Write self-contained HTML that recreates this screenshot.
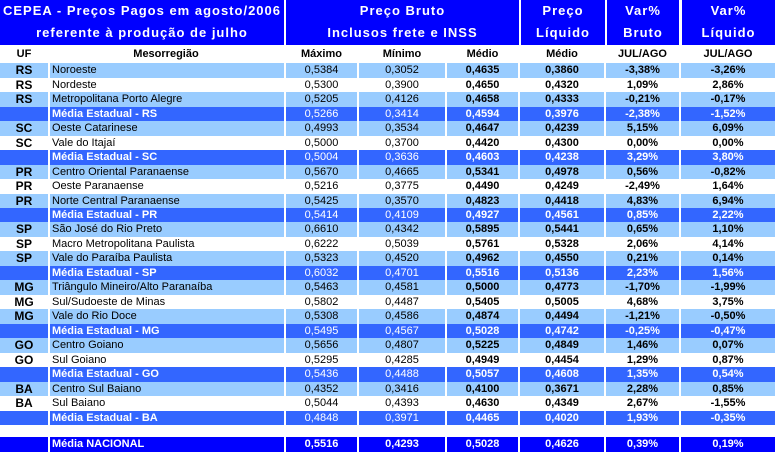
<!DOCTYPE html>
<html><head><meta charset="utf-8"><style>
html,body{margin:0;padding:0;background:#fff;width:775px;height:452px;overflow:hidden;position:relative}
body{font-family:"Liberation Sans",Arial,sans-serif;font-size:11px;color:#000}
.row{position:absolute;left:0;width:775px;height:14.47px}
.row>div{position:absolute;top:0;height:100%;text-align:center;white-space:nowrap;overflow:hidden;line-height:15px}
.row>div:nth-child(1){left:0;width:48px}
.row>div:nth-child(2){left:50px;width:232px;text-align:left;padding-left:2px}
.row>div:nth-child(3){left:286px;width:71px}
.row>div:nth-child(4){left:359px;width:86px}
.row>div:nth-child(5){left:447px;width:71px}
.row>div:nth-child(6){left:520px;width:84px}
.row>div:nth-child(7){left:606px;width:73px}
.row>div:nth-child(8){left:681px;width:94px}
.r>div:nth-child(1){font-weight:bold;font-size:12px}
.r>div:nth-child(n+5){font-weight:bold}
.l>div{background:#99ccff}
.m>div{background:#3366ff;color:#fff}
.m>div:nth-child(2){font-weight:bold}
.n>div{background:#0000ff;color:#fff;font-weight:bold}
.c{height:17px}
.c>div{font-weight:bold;line-height:17px}
.c>div:nth-child(2){text-align:center;padding-left:0}
.h{position:absolute;background:#0000ff;color:#fff;font-weight:bold;font-size:13px;letter-spacing:1px;text-align:center;white-space:nowrap}
</style></head><body>
<div class="h" style="left:0;top:0;width:284px;height:45px;line-height:22px">CEPEA - Preços Pagos em agosto/2006<br>referente à produção de julho</div>
<div class="h" style="left:286px;top:0;width:233px;height:45px;line-height:22px">Preço Bruto<br>Inclusos frete e INSS</div>
<div class="h" style="left:521px;top:0;width:84px;height:45px;line-height:22px">Preço<br>Líquido</div>
<div class="h" style="left:607px;top:0;width:72px;height:45px;line-height:22px">Var%<br>Bruto</div>
<div class="h" style="left:682px;top:0;width:93px;height:45px;line-height:22px">Var%<br>Líquido</div>
<div class="row c" style="top:46px"><div>UF</div><div>Mesorregião</div><div>Máximo</div><div>Mínimo</div><div>Médio</div><div>Médio</div><div>JUL/AGO</div><div>JUL/AGO</div></div>
<div class="row r l" style="top:63.3px"><div>RS</div><div>Noroeste</div><div>0,5384</div><div>0,3052</div><div>0,4635</div><div>0,3860</div><div>-3,38%</div><div>-3,26%</div></div>
<div class="row r" style="top:77.77px"><div>RS</div><div>Nordeste</div><div>0,5300</div><div>0,3900</div><div>0,4650</div><div>0,4320</div><div>1,09%</div><div>2,86%</div></div>
<div class="row r l" style="top:92.24px"><div>RS</div><div>Metropolitana Porto Alegre</div><div>0,5205</div><div>0,4126</div><div>0,4658</div><div>0,4333</div><div>-0,21%</div><div>-0,17%</div></div>
<div class="row r m" style="top:106.71px"><div></div><div>Média Estadual - RS</div><div>0,5266</div><div>0,3414</div><div>0,4594</div><div>0,3976</div><div>-2,38%</div><div>-1,52%</div></div>
<div class="row r l" style="top:121.18px"><div>SC</div><div>Oeste Catarinese</div><div>0,4993</div><div>0,3534</div><div>0,4647</div><div>0,4239</div><div>5,15%</div><div>6,09%</div></div>
<div class="row r" style="top:135.65px"><div>SC</div><div>Vale do Itajaí</div><div>0,5000</div><div>0,3700</div><div>0,4420</div><div>0,4300</div><div>0,00%</div><div>0,00%</div></div>
<div class="row r m" style="top:150.12px"><div></div><div>Média Estadual - SC</div><div>0,5004</div><div>0,3636</div><div>0,4603</div><div>0,4238</div><div>3,29%</div><div>3,80%</div></div>
<div class="row r l" style="top:164.59px"><div>PR</div><div>Centro Oriental Paranaense</div><div>0,5670</div><div>0,4665</div><div>0,5341</div><div>0,4978</div><div>0,56%</div><div>-0,82%</div></div>
<div class="row r" style="top:179.06px"><div>PR</div><div>Oeste Paranaense</div><div>0,5216</div><div>0,3775</div><div>0,4490</div><div>0,4249</div><div>-2,49%</div><div>1,64%</div></div>
<div class="row r l" style="top:193.53px"><div>PR</div><div>Norte Central Paranaense</div><div>0,5425</div><div>0,3570</div><div>0,4823</div><div>0,4418</div><div>4,83%</div><div>6,94%</div></div>
<div class="row r m" style="top:208px"><div></div><div>Média Estadual - PR</div><div>0,5414</div><div>0,4109</div><div>0,4927</div><div>0,4561</div><div>0,85%</div><div>2,22%</div></div>
<div class="row r l" style="top:222.47px"><div>SP</div><div>São José do Rio Preto</div><div>0,6610</div><div>0,4342</div><div>0,5895</div><div>0,5441</div><div>0,65%</div><div>1,10%</div></div>
<div class="row r" style="top:236.94px"><div>SP</div><div>Macro Metropolitana Paulista</div><div>0,6222</div><div>0,5039</div><div>0,5761</div><div>0,5328</div><div>2,06%</div><div>4,14%</div></div>
<div class="row r l" style="top:251.41px"><div>SP</div><div>Vale do Paraíba Paulista</div><div>0,5323</div><div>0,4520</div><div>0,4962</div><div>0,4550</div><div>0,21%</div><div>0,14%</div></div>
<div class="row r m" style="top:265.88px"><div></div><div>Média Estadual - SP</div><div>0,6032</div><div>0,4701</div><div>0,5516</div><div>0,5136</div><div>2,23%</div><div>1,56%</div></div>
<div class="row r l" style="top:280.35px"><div>MG</div><div>Triângulo Mineiro/Alto Paranaíba</div><div>0,5463</div><div>0,4581</div><div>0,5000</div><div>0,4773</div><div>-1,70%</div><div>-1,99%</div></div>
<div class="row r" style="top:294.82px"><div>MG</div><div>Sul/Sudoeste de Minas</div><div>0,5802</div><div>0,4487</div><div>0,5405</div><div>0,5005</div><div>4,68%</div><div>3,75%</div></div>
<div class="row r l" style="top:309.29px"><div>MG</div><div>Vale do Rio Doce</div><div>0,5308</div><div>0,4586</div><div>0,4874</div><div>0,4494</div><div>-1,21%</div><div>-0,50%</div></div>
<div class="row r m" style="top:323.76px"><div></div><div>Média Estadual - MG</div><div>0,5495</div><div>0,4567</div><div>0,5028</div><div>0,4742</div><div>-0,25%</div><div>-0,47%</div></div>
<div class="row r l" style="top:338.23px"><div>GO</div><div>Centro Goiano</div><div>0,5656</div><div>0,4807</div><div>0,5225</div><div>0,4849</div><div>1,46%</div><div>0,07%</div></div>
<div class="row r" style="top:352.7px"><div>GO</div><div>Sul Goiano</div><div>0,5295</div><div>0,4285</div><div>0,4949</div><div>0,4454</div><div>1,29%</div><div>0,87%</div></div>
<div class="row r m" style="top:367.17px"><div></div><div>Média Estadual - GO</div><div>0,5436</div><div>0,4488</div><div>0,5057</div><div>0,4608</div><div>1,35%</div><div>0,54%</div></div>
<div class="row r l" style="top:381.64px"><div>BA</div><div>Centro Sul Baiano</div><div>0,4352</div><div>0,3416</div><div>0,4100</div><div>0,3671</div><div>2,28%</div><div>0,85%</div></div>
<div class="row r" style="top:396.11px"><div>BA</div><div>Sul Baiano</div><div>0,5044</div><div>0,4393</div><div>0,4630</div><div>0,4349</div><div>2,67%</div><div>-1,55%</div></div>
<div class="row r m" style="top:410.58px"><div></div><div>Média Estadual - BA</div><div>0,4848</div><div>0,3971</div><div>0,4465</div><div>0,4020</div><div>1,93%</div><div>-0,35%</div></div>
<div class="row n" style="top:437px;height:15px"><div></div><div>Média NACIONAL</div><div>0,5516</div><div>0,4293</div><div>0,5028</div><div>0,4626</div><div>0,39%</div><div>0,19%</div></div>
</body></html>
